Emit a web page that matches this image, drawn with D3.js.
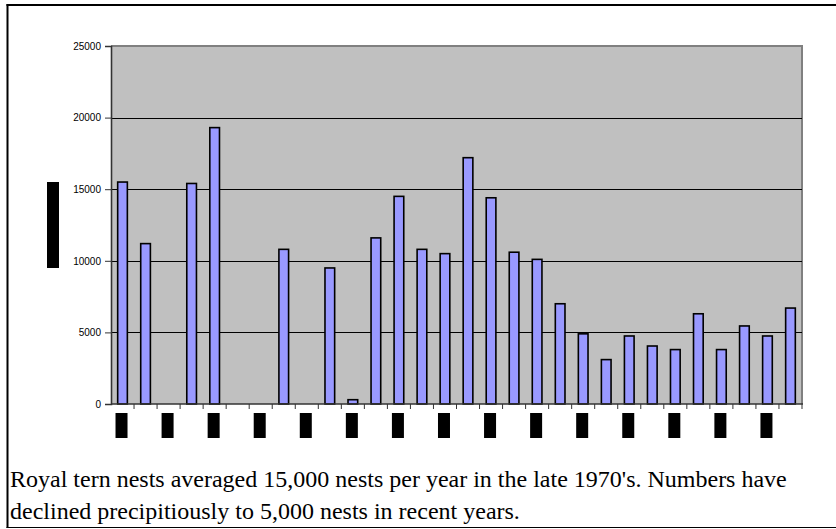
<!DOCTYPE html>
<html>
<head>
<meta charset="utf-8">
<script src="https://cdn.jsdelivr.net/npm/d3@7"></script>
<style>
  html, body { margin: 0; padding: 0; background: #fff; }
  svg { display: block; }
</style>
</head>
<body>
<svg id="chart" width="836" height="529"></svg>
<script>
// Category keys (the original axis labels are blacked out in the reference)
const categories = ["1977","1978","1979","1980","1981","1982","1983","1984","1985","1986",
                    "1987","1988","1989","1990","1991","1992","1993","1994","1995","1996",
                    "1997","1998","1999","2000","2001","2002","2003","2004","2005","2006"];
// Royal tern nests (null = no bar)
const nests = [15500, 11200, null, 15400, 19300, null, null, 10800, null, 9500,
               300, 11600, 14500, 10800, 10500, 17200, 14400, 10600, 10100, 7000,
               4900, 3100, 4750, 4050, 3800, 6300, 3800, 5450, 4750, 6700];
const yTicks = [0, 5000, 10000, 15000, 20000, 25000];
const captionLines = [
  "Royal tern nests averaged 15,000 nests per year in the late 1970's. Numbers have",
  "declined precipitiously to 5,000 nests in recent years."
];

const svg = d3.select("#chart");
const plot = { left: 111, right: 802, top: 46, bottom: 404 };

const x = d3.scaleBand().domain(categories).range([plot.left, plot.right]).paddingInner(0.58).paddingOuter(0.29);
const xb = d3.scaleBand().domain(categories).range([plot.left, plot.right]);
const y = d3.scaleLinear().domain([0, 25000]).range([plot.bottom, plot.top]);

// Outer frame
svg.append("line").attr("x1", 7.5).attr("x2", 7.5).attr("y1", 4).attr("y2", 528)
  .attr("stroke", "#000").attr("stroke-width", 2);
svg.append("line").attr("x1", 6.5).attr("x2", 836).attr("y1", 5).attr("y2", 5)
  .attr("stroke", "#000").attr("stroke-width", 2);
svg.append("line").attr("x1", 6.5).attr("x2", 836).attr("y1", 527.5).attr("y2", 527.5)
  .attr("stroke", "#000").attr("stroke-width", 1);

// Plot area background
svg.append("rect").attr("x", plot.left).attr("y", plot.top)
  .attr("width", plot.right - plot.left).attr("height", plot.bottom - plot.top)
  .attr("fill", "#c0c0c0");
// top and right border (gray)
svg.append("path")
  .attr("d", `M${plot.left},${plot.top}H${plot.right}V${plot.bottom}`)
  .attr("fill", "none").attr("stroke", "#808080").attr("stroke-width", 2);

// Gridlines
svg.append("g").selectAll("line").data(yTicks.filter(t => t > 0 && t < 25000)).join("line")
  .attr("x1", plot.left).attr("x2", plot.right)
  .attr("y1", d => Math.round(y(d)) + 0.5).attr("y2", d => Math.round(y(d)) + 0.5)
  .attr("stroke", "#000").attr("stroke-width", 1);

// Bars
svg.append("g").selectAll("rect")
  .data(categories.map((c, i) => ({ c, v: nests[i] })).filter(d => d.v != null))
  .join("rect")
  .attr("x", d => x(d.c))
  .attr("width", x.bandwidth())
  .attr("y", d => y(d.v))
  .attr("height", d => y(0) - y(d.v))
  .attr("fill", "#9999ff")
  .attr("stroke", "#000")
  .attr("stroke-width", 1.6);

// Y axis
const yAxis = d3.axisLeft(y).tickValues(yTicks).tickSize(6).tickPadding(4).tickFormat(d3.format("d"));
const gy = svg.append("g").attr("transform", `translate(${plot.left},0)`).call(yAxis);
gy.select(".domain").attr("stroke", "#333").attr("stroke-width", 1.6);
gy.selectAll(".tick line").attr("stroke", "#333");
gy.selectAll(".tick text").attr("font-family", "Arial, 'Liberation Sans', sans-serif")
  .attr("font-size", 10).attr("fill", "#000");

// X axis (band boundaries as ticks, labels hidden)
svg.append("line").attr("x1", plot.left).attr("x2", plot.right + 1)
  .attr("y1", plot.bottom).attr("y2", plot.bottom)
  .attr("stroke", "#333").attr("stroke-width", 1.6);
svg.append("g").selectAll("line").data(categories.slice(1).concat(["__end"])).join("line")
  .attr("x1", (d, i) => i < categories.length - 1 ? xb(d) : plot.right)
  .attr("x2", (d, i) => i < categories.length - 1 ? xb(d) : plot.right)
  .attr("y1", plot.bottom).attr("y2", plot.bottom + 5)
  .attr("stroke", "#333").attr("stroke-width", 1);

// Blacked-out category labels (every other category)
svg.append("g").selectAll("rect")
  .data(categories.filter((c, i) => i % 2 === 0))
  .join("rect")
  .attr("x", d => xb(d) + xb.bandwidth() / 2 - 7)
  .attr("y", 413)
  .attr("width", 12)
  .attr("height", 25)
  .attr("fill", "#000");

// Blacked-out y-axis title
svg.append("rect").attr("x", 47).attr("y", 182).attr("width", 12).attr("height", 86).attr("fill", "#000");

// Caption
svg.append("g").selectAll("text").data(captionLines).join("text")
  .attr("x", 10)
  .attr("y", (d, i) => 487 + i * 32)
  .attr("font-family", "'Times New Roman', 'Liberation Serif', serif")
  .attr("font-size", 24)
  .attr("fill", "#000")
  .text(d => d);
</script>
</body>
</html>
